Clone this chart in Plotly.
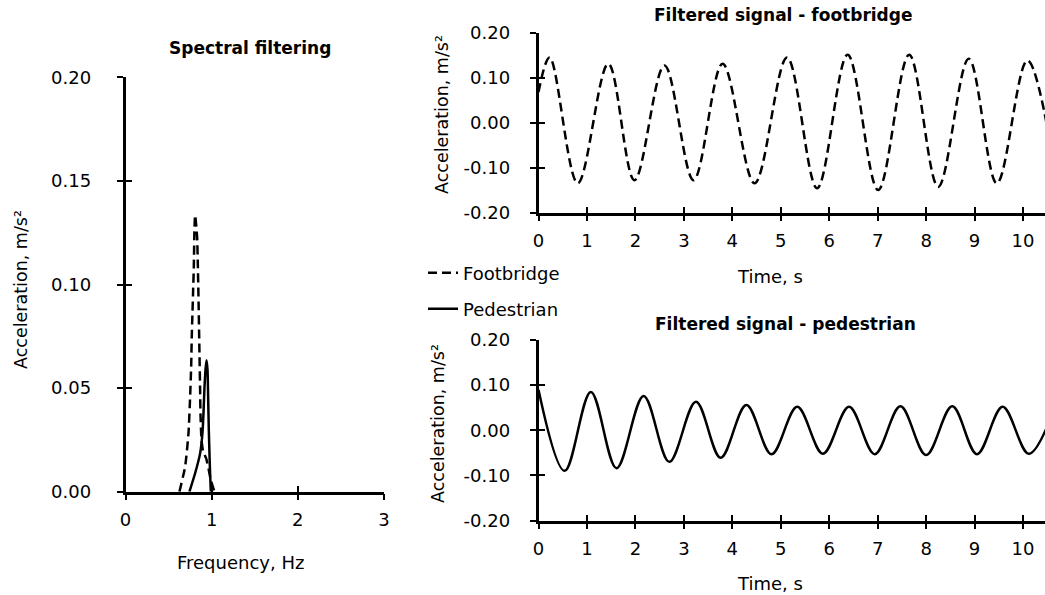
import plotly.graph_objects as go

# ---------------- data ----------------
# Spectral filtering (frequency in Hz, acceleration amplitude in m/s^2)
spec_fb_freq = [0.626, 0.692, 0.731, 0.750, 0.762, 0.769, 0.777, 0.785, 0.793, 0.800, 0.808,
                0.831, 0.839, 0.847, 0.859, 0.866, 0.870, 0.882, 0.901, 0.936, 0.967, 0.990, 1.033]
spec_fb_amp = [0.0, 0.0121, 0.0282, 0.0459, 0.0603, 0.0748, 0.0861, 0.0973, 0.1086, 0.1263, 0.1335,
               0.1231, 0.1104, 0.0941, 0.0652, 0.0491, 0.0378, 0.0250, 0.0193, 0.0161, 0.0105, 0.0056, 0.0]

spec_ped_freq = [0.742, 0.808, 0.866, 0.893, 0.905, 0.917, 0.928, 0.940, 0.952, 0.959, 0.967, 0.979, 0.990]
spec_ped_amp = [0.0, 0.0089, 0.0185, 0.0282, 0.0378, 0.0507, 0.0587, 0.0635, 0.0587, 0.0459, 0.0298, 0.0121, 0.0]

# Filtered signal - footbridge (time s, acceleration m/s^2) : start, peaks and troughs
fb_time = [0.0, 0.23, 0.81, 1.44, 1.98, 2.60, 3.20, 3.80, 4.46, 5.13, 5.75, 6.38, 7.01, 7.65, 8.25, 8.88, 9.46, 10.09, 10.70]
fb_acc = [0.068, 0.145, -0.135, 0.131, -0.128, 0.127, -0.128, 0.131, -0.135, 0.145, -0.146, 0.151,
          -0.150, 0.151, -0.143, 0.142, -0.135, 0.138, -0.135]

# Filtered signal - pedestrian
ped_time = [0.0, 0.54, 1.08, 1.61, 2.17, 2.70, 3.25, 3.76, 4.29, 4.81, 5.34, 5.87, 6.41, 6.94, 7.47,
            8.00, 8.54, 9.05, 9.58, 10.12, 10.66]
ped_acc = [0.090, -0.090, 0.085, -0.084, 0.076, -0.070, 0.063, -0.061, 0.056, -0.053, 0.052, -0.052,
           0.052, -0.053, 0.053, -0.055, 0.053, -0.053, 0.052, -0.052, 0.052]

# tick labels
spec_x_ticks = [0, 1, 2, 3]
spec_y_ticks = [0.0, 0.05, 0.10, 0.15, 0.20]
spec_y_text = ["0.00", "0.05", "0.10", "0.15", "0.20"]
time_x_ticks = list(range(0, 11))
time_y_ticks = [-0.2, -0.1, 0.0, 0.1, 0.2]
time_y_text = ["-0.20", "-0.10", "0.00", "0.10", "0.20"]

# ---------------- figure ----------------
W, H = 1045, 595
FONT = "DejaVu Sans"
DASH = "9px,5px"
LW = 2.5

def px(x):
    return x / W

def py(y):
    return (H - y) / H

fig = go.Figure()

fig.add_trace(go.Scatter(x=spec_fb_freq, y=spec_fb_amp, mode="lines", name="Footbridge",
                         line=dict(color="black", width=LW, dash=DASH, shape="spline", smoothing=0.5),
                         xaxis="x", yaxis="y", legend="legend", showlegend=True))
fig.add_trace(go.Scatter(x=spec_ped_freq, y=spec_ped_amp, mode="lines", name="Pedestrian",
                         line=dict(color="black", width=LW, shape="spline", smoothing=0.5),
                         xaxis="x", yaxis="y", legend="legend2", showlegend=True))
fig.add_trace(go.Scatter(x=fb_time, y=fb_acc, mode="lines", name="Footbridge",
                         line=dict(color="black", width=LW, dash=DASH, shape="spline", smoothing=1.0),
                         xaxis="x2", yaxis="y2", showlegend=False))
fig.add_trace(go.Scatter(x=ped_time, y=ped_acc, mode="lines", name="Pedestrian",
                         line=dict(color="black", width=LW, shape="spline", smoothing=1.0),
                         xaxis="x3", yaxis="y3", showlegend=False))

tickfont = dict(family=FONT, size=18, color="black")

def base_axis(**kw):
    d = dict(showline=True, linecolor="black", linewidth=LW, ticks="outside", ticklen=6,
             tickwidth=2, tickcolor="black", showgrid=False, zeroline=False, fixedrange=True,
             tickfont=tickfont, automargin=False)
    d.update(kw)
    return d

def cross_axis(**kw):
    d = dict(showline=False, ticks="inside", ticklen=6, tickwidth=2, tickcolor="black",
             showgrid=False, zeroline=False, showticklabels=False, fixedrange=True, automargin=False)
    d.update(kw)
    return d

dom_left_x = [px(125.5), px(384)]
dom_left_y = [py(491.7), py(77.3)]
dom_right_x = [px(538.5), 1.0]
dom_top_y = [py(212.5), py(32.7)]
dom_bot_y = [py(520.5), py(340)]
TMAX = (1045 - 538.5) / 48.45

fig.update_layout(
    template="none",
    width=W, height=H, margin=dict(l=0, r=0, t=0, b=0, pad=0, autoexpand=False),
    paper_bgcolor="white", plot_bgcolor="white",
    xaxis=base_axis(domain=dom_left_x, range=[0, 3], anchor="y", tickvals=spec_x_ticks,
                    ticklabelstandoff=4),
    yaxis=base_axis(domain=dom_left_y, range=[0, 0.2], anchor="x", tickvals=spec_y_ticks,
                    ticktext=spec_y_text, ticklabelstandoff=22),
    xaxis2=base_axis(domain=dom_right_x, range=[0, TMAX], anchor="y2", tickvals=time_x_ticks,
                     ticklabelstandoff=4),
    yaxis2=base_axis(domain=dom_top_y, range=[-0.2, 0.2], anchor="x2", tickvals=time_y_ticks,
                     ticktext=time_y_text, ticklabelstandoff=16),
    xaxis3=base_axis(domain=dom_right_x, range=[0, TMAX], anchor="y3", tickvals=time_x_ticks,
                     ticklabelstandoff=4),
    yaxis3=base_axis(domain=dom_bot_y, range=[-0.2, 0.2], anchor="x3", tickvals=time_y_ticks,
                     ticktext=time_y_text, ticklabelstandoff=16),
    # overlay axes drawing the inner half of the crossing tick marks
    xaxis4=cross_axis(overlaying="x", anchor="y", range=[0, 3], tickvals=spec_x_ticks, side="bottom"),
    yaxis4=cross_axis(overlaying="y", anchor="x", range=[0, 0.2], tickvals=spec_y_ticks, side="left"),
    xaxis5=cross_axis(overlaying="x2", anchor="y2", range=[0, TMAX], tickvals=time_x_ticks, side="bottom"),
    yaxis5=cross_axis(overlaying="y2", anchor="x2", range=[-0.2, 0.2], tickvals=time_y_ticks, side="left"),
    xaxis6=cross_axis(overlaying="x3", anchor="y3", range=[0, TMAX], tickvals=time_x_ticks, side="bottom"),
    yaxis6=cross_axis(overlaying="y3", anchor="x3", range=[-0.2, 0.2], tickvals=time_y_ticks, side="left"),
    legend=dict(x=px(423), y=py(273), xanchor="left", yanchor="middle", bgcolor="rgba(0,0,0,0)",
                font=dict(family=FONT, size=18, color="black"), itemwidth=30),
    legend2=dict(x=px(423), y=py(309), xanchor="left", yanchor="middle", bgcolor="rgba(0,0,0,0)",
                 font=dict(family=FONT, size=18, color="black"), itemwidth=30),
)

# invisible traces so the overlay axes get drawn
for xa, ya in [("x4", "y"), ("x", "y4"), ("x5", "y2"), ("x2", "y5"), ("x6", "y3"), ("x3", "y6")]:
    fig.add_trace(go.Scatter(x=[], y=[], xaxis=xa, yaxis=ya, showlegend=False, hoverinfo="skip"))

title_font = dict(family=FONT, size=17, color="black")
label_font = dict(family=FONT, size=18, color="black")
ylab_font = dict(family=FONT, size=17.5, color="black")

annotations = [
    dict(text="<b>Spectral filtering</b>", x=px(249.5), y=py(48), font=title_font),
    dict(text="Frequency, Hz", x=px(240), y=py(562), font=label_font),
    dict(text="Acceleration, m/s²", x=px(21), y=py(290), font=ylab_font, textangle=-90),
    dict(text="<b>Filtered signal - footbridge</b>", x=px(783), y=py(15), font=title_font),
    dict(text="Time, s", x=px(770), y=py(276), font=label_font),
    dict(text="Acceleration, m/s²", x=px(442), y=py(115), font=ylab_font, textangle=-90),
    dict(text="<b>Filtered signal - pedestrian</b>", x=px(785), y=py(324), font=title_font),
    dict(text="Time, s", x=px(770), y=py(583), font=label_font),
    dict(text="Acceleration, m/s²", x=px(438), y=py(424), font=ylab_font, textangle=-90),
]
for a in annotations:
    a.update(xref="paper", yref="paper", showarrow=False, xanchor="center", yanchor="middle")
fig.update_layout(annotations=annotations)

fig.write_html("out.html", config={"displayModeBar": False},
               post_script="document.body.style.margin='0px';document.body.style.padding='0px';")
